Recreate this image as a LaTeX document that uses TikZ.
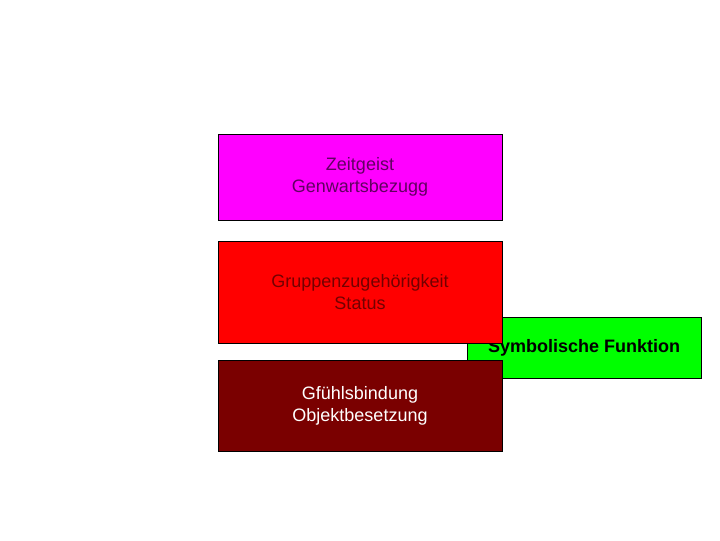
\documentclass[tikz,border=0pt]{standalone}
\usepackage{fontspec}
\setmainfont{Liberation Sans}
\definecolor{boxmagenta}{HTML}{FF00FF}
\definecolor{boxred}{HTML}{FF0000}
\definecolor{boxgreen}{HTML}{00FF00}
\definecolor{boxdark}{HTML}{7A0000}
\begin{document}
\begin{tikzpicture}[x=0.025cm,y=-0.025cm,
    card/.style={draw=black,line width=0.6pt,inner sep=0pt,align=center,
      minimum width=7.1cm,font=\fontsize{12.8}{15.6}\selectfont}]
  \useasboundingbox (0,0) rectangle (720,540);

  % green one first, the others lie over it
  \node[card,fill=boxgreen,minimum width=5.85cm,minimum height=1.525cm,
    font=\fontsize{12.8}{15.6}\selectfont\bfseries] (symbol) at (584,347.5) {Symbolische Funktion};

  \node[card,fill=boxmagenta,text=black!62!boxmagenta,minimum height=2.15cm] (zeitgeist) at (360,177) {Zeitgeist\\Genwartsbezugg};
  \node[card,fill=boxred,text=black!55!boxred,minimum height=2.55cm] (gruppe) at (360,292) {Gruppenzugehörigkeit\\Status};
  \node[card,fill=boxdark,text=white,minimum height=2.275cm] (gefuehl) at (360,405.5) {Gfühlsbindung\\Objektbesetzung};
\end{tikzpicture}
\end{document}
